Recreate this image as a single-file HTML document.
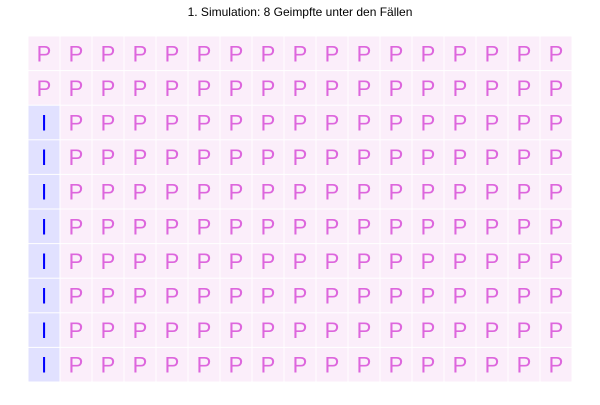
<!DOCTYPE html>
<html><head><meta charset="utf-8"><style>
body{margin:0;width:600px;height:400px;background:#fff;overflow:hidden;font-family:"Liberation Sans",sans-serif}
</style></head><body>
<svg width="600" height="400">
<text x="300" y="16" text-anchor="middle" font-size="12" fill="#000">1. Simulation: 8 Geimpfte unter den Fällen</text>
<g id="grid"></g>
</svg>
<script>
const nCols = 17;
const nRows = 10;
const vaccinatedCount = 8;
const labels = ["I","P"];
const g = document.getElementById('grid');
const x0 = 28, y0 = 36, cw = 32, ch = 34.6;
// vaccinated fill from bottom of first column
for (let c = 0; c < nCols; c++) {
  for (let r = 0; r < nRows; r++) {
    const isI = c === 0 && r >= nRows - vaccinatedCount;
    const rect = document.createElementNS('http://www.w3.org/2000/svg','rect');
    
    
    rect.setAttribute('x', x0 + c*cw + 0.5);
    rect.setAttribute('y', y0 + r*ch + 0.5);
    rect.setAttribute('width', cw - 1);
    rect.setAttribute('height', ch - 1);
    rect.setAttribute('fill', isI ? '#e1e1ff' : '#fbeefa');
    g.appendChild(rect);
    const t = document.createElementNS('http://www.w3.org/2000/svg','text');
    
    
    t.setAttribute('x', x0 + c*cw + cw/2);
    t.setAttribute('y', y0 + r*ch + ch/2 + 8);
    t.setAttribute('text-anchor', 'middle');
    t.setAttribute('font-size', '22');
    t.setAttribute('fill', isI ? '#0000ff' : '#dd66dd');
    t.textContent = isI ? labels[0] : labels[1];
    g.appendChild(t);
  }
}
</script>
</body></html>
